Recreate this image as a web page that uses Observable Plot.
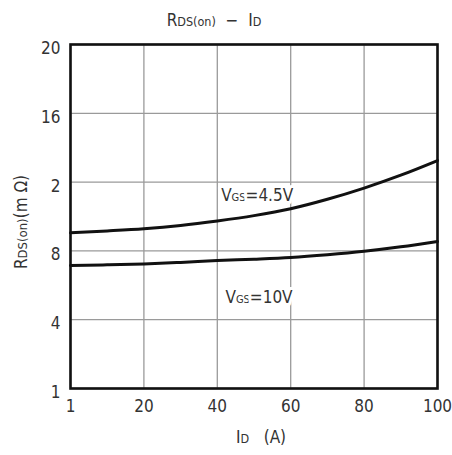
<!DOCTYPE html>
<html>
<head>
<meta charset="utf-8">
<script src="https://cdn.jsdelivr.net/npm/d3@7"></script>
<script src="https://cdn.jsdelivr.net/npm/@observablehq/plot@0.6"></script>
<style>
  html, body { margin: 0; padding: 0; background: #fff; }
  #chart svg { display: block; }
</style>
</head>
<body>
<div id="chart"></div>
<script>
// ---- data ----
const idA = [0, 10, 20, 30, 40, 50, 60, 70, 80, 90, 100];
const rdsVgs45 = [9.05, 9.16, 9.29, 9.48, 9.74, 10.05, 10.45, 11.0, 11.65, 12.4, 13.25];
const rdsVgs10 = [7.15, 7.19, 7.24, 7.33, 7.44, 7.52, 7.62, 7.78, 7.98, 8.24, 8.55];
const xTickValues = [0, 20, 40, 60, 80, 100];
const xTickLabels = ["1", "20", "40", "60", "80", "100"];
const yTickValues = [0, 4, 8, 12, 16, 20];
const yTickLabels = ["1", "4", "8", "2", "16", "20"];
const seriesNames = ["4.5V", "10V"];

const rows = [];
idA.forEach((x, i) => {
  rows.push({ id: x, rds: rdsVgs45[i], s: seriesNames[0] });
  rows.push({ id: x, rds: rdsVgs10[i], s: seriesNames[1] });
});

const FONT = "'Liberation Sans Narrow', 'DejaVu Sans Condensed', 'Open Sans', sans-serif";
const TXT = "#333";

const chart = Plot.plot({
  width: 452,
  height: 455,
  marginLeft: 70,
  marginRight: 15,
  marginTop: 44,
  marginBottom: 67,
  style: { fontFamily: FONT, color: TXT, background: "#fff" },
  x: { domain: [0, 100] },
  y: { domain: [0, 20] },
  marks: [
    Plot.gridX(xTickValues, { stroke: "#9a9a9a", strokeOpacity: 1, strokeWidth: 1.3 }),
    Plot.gridY(yTickValues, { stroke: "#9a9a9a", strokeOpacity: 1, strokeWidth: 1.3 }),
    Plot.line(rows, { x: "id", y: "rds", z: "s", stroke: "#111", strokeWidth: 3, curve: "monotone-x" }),
    Plot.axisX({ ticks: xTickValues, tickFormat: (d) => xTickLabels[xTickValues.indexOf(d)], tickSize: 0, tickPadding: 11, fontSize: 17, label: null }),
    Plot.axisY({ ticks: yTickValues, tickFormat: (d) => yTickLabels[yTickValues.indexOf(d)], tickSize: 0, tickPadding: 10, fontSize: 17, dy: 4, label: null }),
    Plot.frame({ stroke: "#111", strokeWidth: 2.6 })
  ]
});

document.getElementById("chart").appendChild(chart);

const svg = d3.select(chart);
const sx = chart.scale("x").apply;
const sy = chart.scale("y").apply;

function richText(x, y, parts, opts = {}) {
  const t = svg.append("text")
    .attr("x", x).attr("y", y)
    .attr("text-anchor", opts.anchor || "middle")
    .attr("font-family", FONT)
    .attr("fill", TXT);
  if (opts.rotate) t.attr("transform", `rotate(${opts.rotate},${x},${y})`);
  if (opts.halo) t.attr("stroke", "#fff").attr("stroke-width", 6).attr("paint-order", "stroke").attr("stroke-linejoin", "round");
  parts.forEach(([s, size]) => t.append("tspan").attr("font-size", size).text(s));
  return t;
}

// title
richText(214, 26, [["R", 17], ["DS(on)", 12.5], ["  \u2212  ", 17], ["I", 17], ["D", 12.5]]);
// y axis label
richText(27, 222, [["R", 17], ["DS(on)", 13], ["(m \u03A9)", 17]], { rotate: -90 });
// x axis label
richText(261, 443, [["I", 17], ["D", 12.5], ["   (A)", 17]]);
// curve labels
richText(sx(51), sy(11.25) + 6, [["V", 17], ["GS", 11], ["=4.5V", 17]], { halo: true });
richText(sx(51.5), sy(5.3) + 6, [["V", 17], ["GS", 11], ["=10V", 17]], { halo: true });
</script>
</body>
</html>
